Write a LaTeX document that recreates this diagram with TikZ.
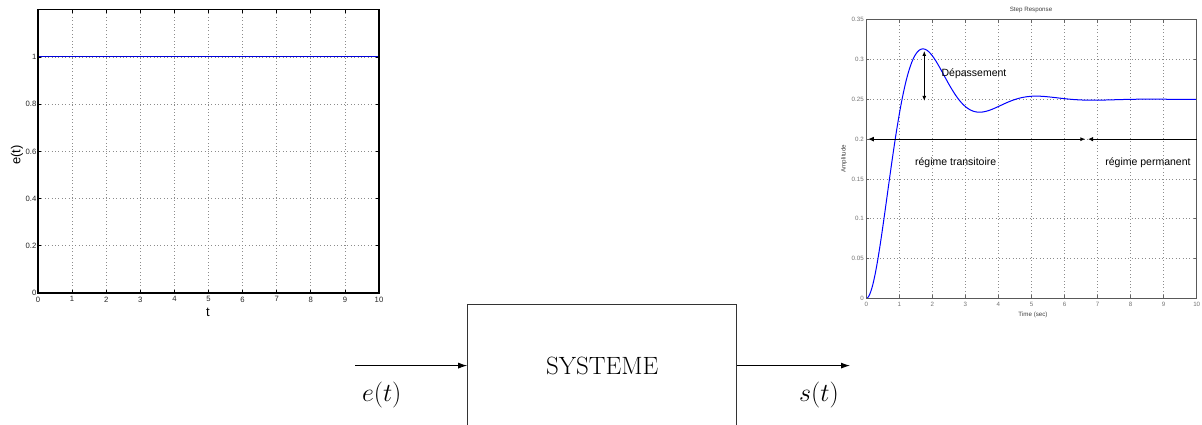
\documentclass[tikz,border=0pt]{standalone}
\usepackage{fix-cm}
\usepackage{fontspec}
\newfontfamily\plotfont{Liberation Sans}
\usetikzlibrary{arrows.meta}

\begin{document}
\begin{tikzpicture}[x=1pt,y=-1pt,
  gridline/.style={black!45, line width=0.7pt, dash pattern=on 0.8pt off 2.6pt},
  frameA/.style={black, line width=1.3pt},
  frameB/.style={black!65, line width=1pt},
  tickA/.style={black, line width=0.8pt},
  tickB/.style={black!60, line width=0.7pt},
  labA/.style={font=\plotfont\fontsize{7.7}{8}\selectfont, text=black!85, inner sep=0pt},
  labB/.style={font=\plotfont\fontsize{6.2}{7}\selectfont, text=black!55, inner sep=0pt},
  annot/.style={font=\plotfont\fontsize{10.5}{12}\selectfont, inner sep=0pt},
  curve/.style={blue, line width=1pt},
  marker/.style={black, line width=0.9pt},
  sig/.style={black, line width=0.9pt, -{Latex[length=9pt,width=6pt]}},
  block/.style={draw=black!80, line width=1pt, minimum width=269pt,
    minimum height=123pt, inner sep=0pt, font=\fontsize{25}{30}\selectfont},
  biglab/.style={font=\fontsize{26}{31}\selectfont, inner sep=0pt}]
\useasboundingbox (0,0) rectangle (1202,425);
\clip (0,0) rectangle (1202,425);

% ---------- input signal e(t): unit step ----------
\begin{scope}[shift={(38,293)}, x=34.1pt, y=236pt]
  \foreach \i in {1,...,9} {
    \draw[gridline] (\i,0) -- (\i,1.2);
    \draw[tickA] (\i,0) -- ++(0pt,3pt);
    \draw[tickA] (\i,1.2) -- ++(0pt,-3pt);
  }
  \foreach \v in {0.2,0.4,0.6,0.8,1} {
    \draw[gridline] (0,\v) -- (10,\v);
    \draw[tickA] (0,\v) -- ++(3pt,0pt);
    \draw[tickA] (10,\v) -- ++(-3pt,0pt);
  }
  \draw[curve, blue!85!black] (0,1) -- (10,1);
  \draw[frameA] (0,0) rectangle (10,1.2);
  \foreach \v/\s in {0/0,0.2/0.2,0.4/0.4,0.6/0.6,0.8/0.8,1/1}
    \node[labA, anchor=east] at ([xshift=-1.5pt]0,\v) {\s};
  \foreach \i in {0,...,10}
    \node[labA, anchor=north] at ([yshift=-3.5pt]\i,0) {\i};
\end{scope}
\node[font=\plotfont\fontsize{13}{14}\selectfont, inner sep=0pt] (tlab) at (208,312) {t};
\node[font=\plotfont\fontsize{13}{14}\selectfont, inner sep=0pt, rotate=90] (elab) at (17,155) {e(t)};

% ---------- output signal s(t): step response ----------
\begin{scope}[shift={(866.3,298.3)}, x=33.04pt, y=795.7pt]
  \foreach \i in {1,...,9} {
    \draw[gridline] (\i,0) -- (\i,0.35);
    \draw[tickB] (\i,0) -- ++(0pt,3pt);
    \draw[tickB] (\i,0.35) -- ++(0pt,-3pt);
  }
  \foreach \v in {0.05,0.1,0.15,0.2,0.25,0.3} {
    \draw[gridline] (0,\v) -- (10,\v);
    \draw[tickB] (0,\v) -- ++(3pt,0pt);
    \draw[tickB] (10,\v) -- ++(-3pt,0pt);
  }
  \draw[curve] plot[domain=0:10, samples=300, smooth]
    (\x, {0.25*(1-exp(-0.8*\x)*(cos(1.833*\x r)+0.4364*sin(1.833*\x r)))});
  \draw[frameB] (0,0) rectangle (10,0.35);
  \foreach \v in {0,0.05,0.1,0.15,0.2,0.25,0.3,0.35}
    \node[labB, anchor=east] at ([xshift=-2.3pt]0,\v) {\v};
  \foreach \i in {0,...,10}
    \node[labB, anchor=north] at ([yshift=-4pt]\i,0) {\i};

  % overshoot and regime markers
  \coordinate (pktop) at (1.755,0.3108);
  \coordinate (pkbot) at (1.755,0.2480);
  \coordinate (trA) at (0.05,0.2);
  \coordinate (trB) at (6.63,0.2);
  \coordinate (pmA) at (6.71,0.2);
  \coordinate (pmB) at (10,0.2);
  \draw[marker, {Latex[length=5pt,width=4pt]}-{Latex[length=5pt,width=4pt]}] (pktop) -- (pkbot);
  \draw[marker, {Latex[length=6pt,width=5pt]}-{Latex[length=5pt,width=4pt]}] (trA) -- (trB);
  \draw[marker, {Latex[length=5pt,width=4.5pt]}-] (pmA) -- (pmB);
\end{scope}
\node[annot] (dep) at (974,74) {Dépassement};
\node[annot] (trans) at (955.7,162.7) {régime transitoire};
\node[annot] (perm) at (1148,163) {régime permanent};
\node[labB, text=black!75] (title) at (1031,10) {Step Response};
\node[labB, text=black!75] (xlabB) at (1033,315.3) {Time (sec)};
\node[labB, text=black!75, rotate=90] (ylabB) at (844,158.7) {Amplitude};

% ---------- block diagram ----------
\node[block] (sys) at (602.2,365.6) {SYSTEME};
\coordinate (in) at (355,365.6);
\coordinate (out) at (850,365.6);
\draw[sig] (in) -- (sys.west);
\draw[sig] (sys.east) -- (out);
\node[biglab] (ein) at (381.7,395) {$e(t)$};
\node[biglab] (sout) at (819,395) {$s(t)$};
\end{tikzpicture}
\end{document}
